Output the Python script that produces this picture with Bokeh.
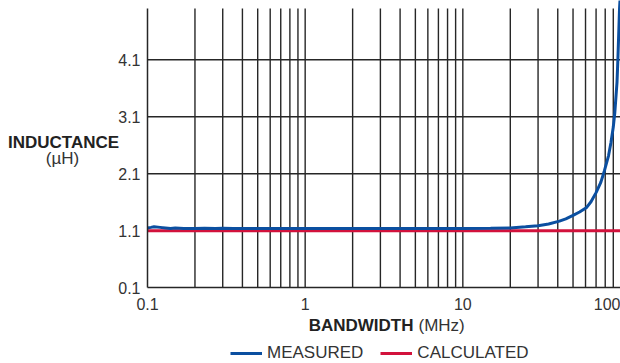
from bokeh.plotting import figure
from bokeh.models import FixedTicker, Label, Legend, LegendItem, Range1d, LogAxis
from bokeh.embed import file_html
from bokeh.resources import INLINE

# ---- data ----
freq_measured = [0.1, 0.105, 0.11, 0.12, 0.13, 0.14, 0.15, 0.17, 0.2, 0.23, 0.27, 0.3,
                 0.35, 0.4, 0.5, 0.6, 0.8, 1, 1.5, 2, 3, 5, 7, 10, 15, 20, 25, 30, 35,
                 41, 45, 50, 55, 61, 65, 70, 75, 79, 84, 87, 90, 92, 95, 96.2, 98.6, 100]
ind_measured = [1.15, 1.16, 1.17, 1.16, 1.15, 1.14, 1.15, 1.14, 1.14, 1.145, 1.14, 1.145,
                1.14, 1.14, 1.14, 1.14, 1.14, 1.14, 1.14, 1.14, 1.14, 1.14, 1.14, 1.14, 1.145,
                1.15, 1.17, 1.19, 1.22, 1.27, 1.31, 1.37, 1.43, 1.51, 1.61, 1.77, 1.95,
                2.15, 2.42, 2.65, 2.92, 3.17, 3.70, 4.09, 5.0, 5.3]
freq_calculated = [0.1, 100]
ind_calculated = [1.1, 1.1]

x_first_tick, x_first_label = [0.1], ["0.1"]
x_major_ticks = [1, 10, 100]
x_tick_labels = ["1", "10", "100"]
x_grid_ticks = [0.2, 0.3, 0.4, 0.5, 0.6, 0.7, 0.8, 0.9, 1, 2, 3, 4, 5, 6, 7, 8, 9, 10,
                20, 30, 40, 50, 60, 70, 80, 90]
y_ticks = [0.1, 1.1, 2.1, 3.1, 4.1]
y_tick_labels = ["0.1", "1.1", "2.1", "3.1", "4.1"]
y_min, y_max = 0.1, 5.0          # extent of the chart's grid
x_min, x_max = 0.1, 100

# ---- layout constants (pixels) ----
W, H = 620, 363
X0_PX = 147                      # position of x=0.1 ; x=100 sits at the right edge
PX_DECADE = (W - X0_PX) / 3
Y0_PX, PX_UNIT = 287.3, 57       # position of y=0.1, height of one unit

x_start = x_min * 10 ** (-X0_PX / PX_DECADE)
x_end = x_max
y_start = y_min - (H - Y0_PX) / PX_UNIT
y_end = y_min + Y0_PX / PX_UNIT

BLUE = "#0b4fa0"
RED = "#d2123c"
GRID = "#262626"
TXT = "#333333"
FONT = "Liberation Sans"

p = figure(width=W, height=H, x_axis_type="log",
           x_range=Range1d(x_start, x_end), y_range=Range1d(y_start, y_end),
           output_backend="svg", toolbar_location=None,
           min_border=0)
p.outline_line_color = None
p.background_fill_color = "white"
p.border_fill_color = "white"
p.xgrid.visible = False
p.ygrid.visible = False

# grid lines
n = len(x_grid_ticks)
p.segment(x0=x_grid_ticks, y0=[y_min] * n, x1=x_grid_ticks, y1=[y_max] * n,
          line_color=GRID, line_width=1.4)
m = len(y_ticks) - 1
p.segment(x0=[x_min] * m, y0=y_ticks[1:], x1=[x_end] * m, y1=y_ticks[1:],
          line_color=GRID, line_width=1.4)

# lines
r_calc = p.line(freq_calculated, ind_calculated, line_color=RED, line_width=3)
r_meas = p.line(freq_measured, ind_measured, line_color=BLUE, line_width=3)

# axes
xa = p.xaxis[0]
xa.ticker = FixedTicker(ticks=x_first_tick, minor_ticks=[])
xa.major_label_overrides = {t: l for t, l in zip(x_first_tick, x_first_label)}
xa.fixed_location = y_min
xa.bounds = (x_min, x_end)
xb = LogAxis(ticker=FixedTicker(ticks=x_major_ticks, minor_ticks=[]),
             major_label_overrides={t: l for t, l in zip(x_major_ticks, x_tick_labels)},
             fixed_location=y_min, axis_line_color=None,
             major_label_text_align="right")
p.add_layout(xb, "below")
ya = p.yaxis[0]
ya.ticker = FixedTicker(ticks=y_ticks, minor_ticks=[])
ya.major_label_overrides = {t: l for t, l in zip(y_ticks, y_tick_labels)}
ya.fixed_location = x_min
ya.bounds = (y_min, y_max)
for ax in (xa, xb, ya):
    if ax is not xb:
        ax.axis_line_color = GRID
        ax.axis_line_width = 1.5
    ax.major_tick_in = 0
    ax.major_tick_out = 0
    ax.minor_tick_in = 0
    ax.minor_tick_out = 0
    ax.major_label_text_font = FONT
    ax.major_label_text_font_size = "16px"
    ax.major_label_text_color = TXT
xa.major_label_standoff = 10
xb.major_label_standoff = 10
ya.major_label_standoff = 7

# axis titles (screen units: from the left, and up from the bottom)
def lab(x, y, text, bold=False, align="center"):
    p.add_layout(Label(x=x, y=y, x_units="screen", y_units="screen", text=text,
                       text_font=FONT, text_font_size="17px",
                       text_font_style="bold" if bold else "normal",
                       text_color="#222222" if bold else TXT,
                       text_align=align, text_baseline="alphabetic"))

lab(63, 221, "INDUCTANCE", bold=True)
lab(62, 205, "(µH)")
lab(413, 38, "BANDWIDTH", bold=True, align="right")
lab(418, 38, "(MHz)", align="left")

legend = Legend(items=[LegendItem(label="MEASURED", renderers=[r_meas]),
                       LegendItem(label="CALCULATED", renderers=[r_calc])],
                orientation="horizontal", location=(230, 0),
                padding=0, margin=0, spacing=17, label_standoff=5,
                glyph_width=32, glyph_height=20, label_height=20,
                label_text_font=FONT, label_text_font_size="17px",
                label_text_color=TXT, border_line_color=None,
                background_fill_alpha=0)
p.add_layout(legend, "center")

open("out.html", "w").write(file_html(p, INLINE))
